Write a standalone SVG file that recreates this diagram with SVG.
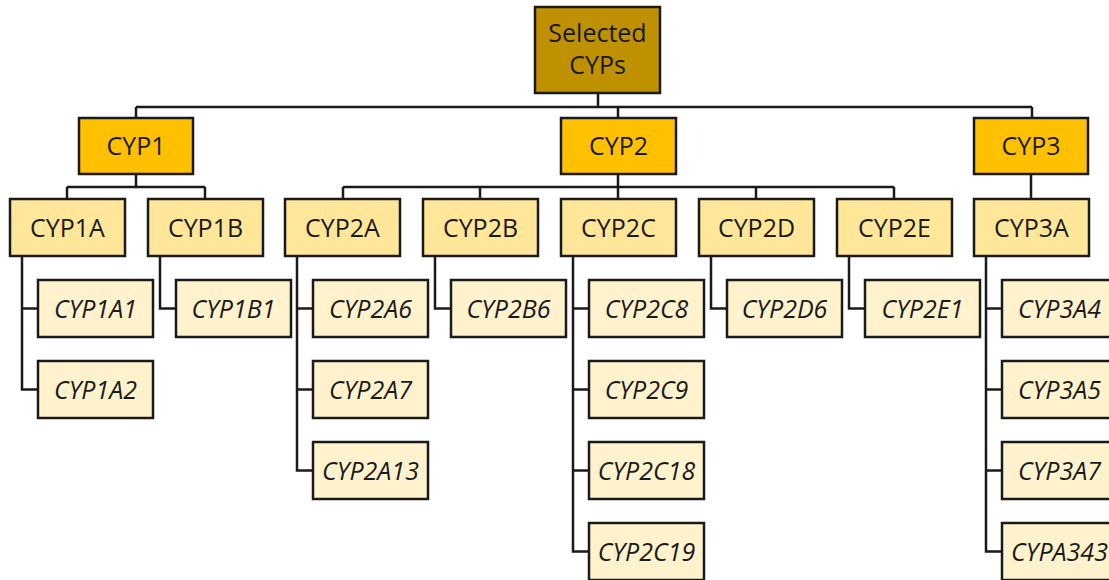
<svg xmlns="http://www.w3.org/2000/svg" width="1109" height="580" viewBox="0 0 1109 580">
<style>
.n rect{stroke:#1a1a1a;stroke-width:2.5}
.r{fill:#BF9000}
.l1{fill:#FFC000}
.l2{fill:#FFE699}
.lf{fill:#FFF2CC}
text{font-family:"Open Sans","Liberation Sans",sans-serif;font-size:25px;fill:#1a1a1a;text-anchor:middle}
.i{font-style:italic}
.c path{fill:none;stroke:#1a1a1a;stroke-width:2.5}
</style>
<g class="c" id="connectors">
<path d="M598 93V107M136 107H1032M136 107V118M618 107V118M1032 107V118"/>
<path d="M136 174V187M67 187H205M67 187V199M205 187V199"/>
<path d="M618 174V187M343 187H894M343 187V199M480 187V199M618 187V199M756 187V199M894 187V199"/>
<path d="M1031 174V199"/>
<path d="M22 256V389.5H38M22 308.5H38"/>
<path d="M160 256V308.5H176"/>
<path d="M297 256V470.5H313M297 308.5H313M297 389.5H313"/>
<path d="M435 256V308.5H451"/>
<path d="M573 256V551.5H589M573 308.5H589M573 389.5H589M573 470.5H589"/>
<path d="M711 256V308.5H727"/>
<path d="M849 256V308.5H865"/>
<path d="M986 256V551.5H1002M986 308.5H1002M986 389.5H1002M986 470.5H1002"/>
</g>
<g class="n">
<g id="root"><rect class="r" x="535" y="7" width="125" height="86"/><text x="597.5" y="42">Selected</text><text x="597.5" y="74">CYPs</text></g>
<g id="cyp1"><rect class="l1" x="79" y="118" width="114" height="56"/><text x="136" y="155">CYP1</text></g>
<g id="cyp2"><rect class="l1" x="561" y="118" width="115" height="56"/><text x="618.5" y="155">CYP2</text></g>
<g id="cyp3"><rect class="l1" x="974" y="118" width="114" height="56"/><text x="1031" y="155">CYP3</text></g>
<g id="cyp1a"><rect class="l2" x="10" y="199" width="115" height="57"/><text x="67.5" y="236.5">CYP1A</text></g>
<g id="cyp1b"><rect class="l2" x="148" y="199" width="115" height="57"/><text x="205.5" y="236.5">CYP1B</text></g>
<g id="cyp2a"><rect class="l2" x="285" y="199" width="115" height="57"/><text x="342.5" y="236.5">CYP2A</text></g>
<g id="cyp2b"><rect class="l2" x="423" y="199" width="115" height="57"/><text x="480.5" y="236.5">CYP2B</text></g>
<g id="cyp2c"><rect class="l2" x="561" y="199" width="115" height="57"/><text x="618.5" y="236.5">CYP2C</text></g>
<g id="cyp2d"><rect class="l2" x="699" y="199" width="115" height="57"/><text x="756.5" y="236.5">CYP2D</text></g>
<g id="cyp2e"><rect class="l2" x="837" y="199" width="115" height="57"/><text x="894.5" y="236.5">CYP2E</text></g>
<g id="cyp3a"><rect class="l2" x="974" y="199" width="115" height="57"/><text x="1031.5" y="236.5">CYP3A</text></g>
<g id="cyp1a1"><rect class="lf" x="38" y="280" width="115" height="57"/><text class="i" x="95.5" y="317.5">CYP1A1</text></g>
<g id="cyp1a2"><rect class="lf" x="38" y="361" width="115" height="57"/><text class="i" x="95.5" y="398.5">CYP1A2</text></g>
<g id="cyp1b1"><rect class="lf" x="176" y="280" width="115" height="57"/><text class="i" x="233.5" y="317.5">CYP1B1</text></g>
<g id="cyp2a6"><rect class="lf" x="313" y="280" width="115" height="57"/><text class="i" x="370.5" y="317.5">CYP2A6</text></g>
<g id="cyp2a7"><rect class="lf" x="313" y="361" width="115" height="57"/><text class="i" x="370.5" y="398.5">CYP2A7</text></g>
<g id="cyp2a13"><rect class="lf" x="313" y="442" width="115" height="57"/><text class="i" x="370.5" y="479.5">CYP2A13</text></g>
<g id="cyp2b6"><rect class="lf" x="451" y="280" width="115" height="57"/><text class="i" x="508.5" y="317.5">CYP2B6</text></g>
<g id="cyp2c8"><rect class="lf" x="589" y="280" width="115" height="57"/><text class="i" x="646.5" y="317.5">CYP2C8</text></g>
<g id="cyp2c9"><rect class="lf" x="589" y="361" width="115" height="57"/><text class="i" x="646.5" y="398.5">CYP2C9</text></g>
<g id="cyp2c18"><rect class="lf" x="589" y="442" width="115" height="57"/><text class="i" x="646.5" y="479.5">CYP2C18</text></g>
<g id="cyp2c19"><rect class="lf" x="589" y="523" width="115" height="57"/><text class="i" x="646.5" y="560.5">CYP2C19</text></g>
<g id="cyp2d6"><rect class="lf" x="727" y="280" width="115" height="57"/><text class="i" x="784.5" y="317.5">CYP2D6</text></g>
<g id="cyp2e1"><rect class="lf" x="865" y="280" width="115" height="57"/><text class="i" x="922.5" y="317.5">CYP2E1</text></g>
<g id="cyp3a4"><rect class="lf" x="1002" y="280" width="115" height="57"/><text class="i" x="1059.5" y="317.5">CYP3A4</text></g>
<g id="cyp3a5"><rect class="lf" x="1002" y="361" width="115" height="57"/><text class="i" x="1059.5" y="398.5">CYP3A5</text></g>
<g id="cyp3a7"><rect class="lf" x="1002" y="442" width="115" height="57"/><text class="i" x="1059.5" y="479.5">CYP3A7</text></g>
<g id="cypa343"><rect class="lf" x="1002" y="523" width="115" height="57"/><text class="i" x="1059.5" y="560.5">CYPA343</text></g>
</g>
</svg>
